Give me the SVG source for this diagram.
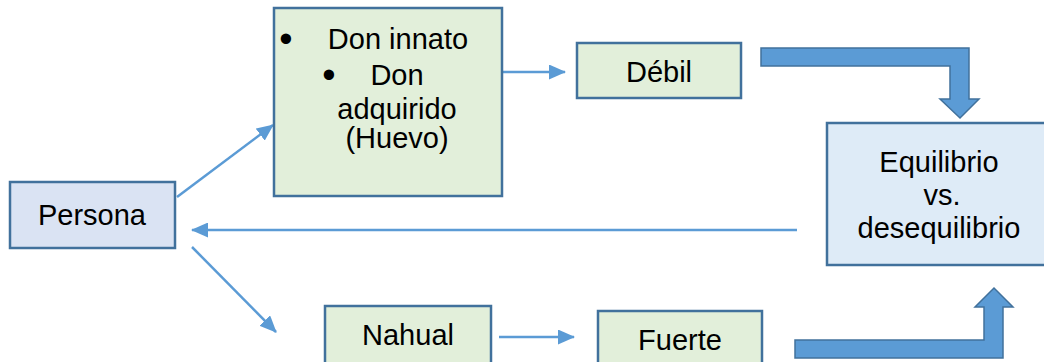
<svg xmlns="http://www.w3.org/2000/svg" width="1044" height="362" viewBox="0 0 1044 362">
<style>
.t{font-family:"Liberation Sans",Arial,sans-serif;font-size:29px;fill:#000;text-anchor:middle}
.bl{font-family:"Liberation Sans",Arial,sans-serif;font-size:38px;fill:#000;text-anchor:middle}
.g{fill:#E2EFDA;stroke:#41719C;stroke-width:2.5}
.b{fill:#DAE3F3;stroke:#41719C;stroke-width:2.5}
.b2{fill:#DEEBF7;stroke:#41719C;stroke-width:2.5}
.c{stroke:#5B9BD5;stroke-width:2.5;fill:none}
.big{fill:#5B9BD5;stroke:#41719C;stroke-width:1.5;stroke-linejoin:miter}
</style>
<defs>
<marker id="ah" markerUnits="userSpaceOnUse" markerWidth="17" markerHeight="15" refX="16" refY="7.5" orient="auto">
<path d="M0,0 L17,7.5 L0,15 Z" fill="#5B9BD5"/>
</marker>
</defs>
<g id="connectors">
<line class="c" x1="177" y1="197" x2="273" y2="125" marker-end="url(#ah)"/>
<line class="c" x1="192" y1="247" x2="276" y2="332" marker-end="url(#ah)"/>
<line class="c" x1="797" y1="230" x2="192" y2="230" marker-end="url(#ah)"/>
<line class="c" x1="502" y1="72" x2="565" y2="72" marker-end="url(#ah)"/>
<line class="c" x1="499" y1="337" x2="574" y2="337" marker-end="url(#ah)"/>
<path class="big" d="M761,48 L969,48 L969,99 L979,99 L960,118 L940,99 L950,99 L950,66 L761,66 Z"/>
<path class="big" d="M795,358 L1003,358 L1003,307 L1013,307 L994,288 L975,307 L984,307 L984,340 L795,340 Z"/>
</g>
<g id="persona">
<rect class="b" x="10" y="182" width="165" height="66"/>
<text class="t" x="92" y="225">Persona</text>
</g>
<g id="don">
<rect class="g" x="274" y="8" width="228" height="188"/>
<text class="bl" x="286" y="52">•</text>
<text class="t" x="398" y="49">Don innato</text>
<text class="bl" x="329" y="88">•</text>
<text class="t" x="397" y="85">Don</text>
<text class="t" x="397" y="119">adquirido</text>
<text class="t" x="397" y="148">(Huevo)</text>
</g>
<g id="debil">
<rect class="g" x="577" y="43" width="164" height="55"/>
<text class="t" x="659" y="82">Débil</text>
</g>
<g id="equilibrio">
<rect class="b2" x="827" y="123" width="230" height="142"/>
<text class="t" x="939" y="172">Equilibrio</text>
<text class="t" x="942" y="205">vs.</text>
<text class="t" x="939" y="238">desequilibrio</text>
</g>
<g id="nahual">
<rect class="g" x="325" y="306" width="166" height="70"/>
<text class="t" x="408" y="345">Nahual</text>
</g>
<g id="fuerte">
<rect class="g" x="598" y="311" width="164" height="65"/>
<text class="t" x="680" y="350">Fuerte</text>
</g>
</svg>
